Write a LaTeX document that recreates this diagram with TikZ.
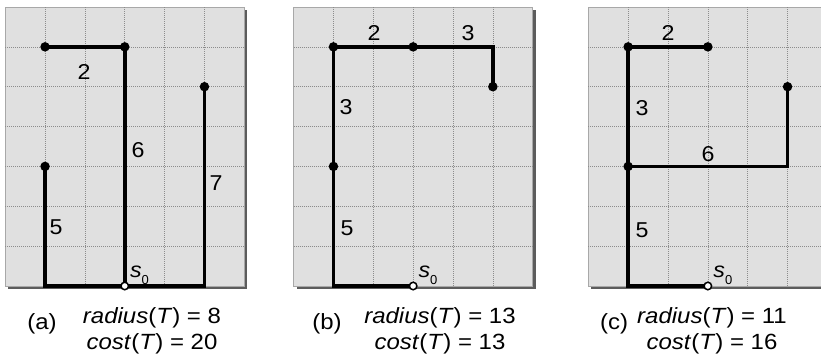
\documentclass[tikz,border=0pt]{standalone}
\usepackage{fontspec}
\setmainfont{Liberation Sans}
\definecolor{panelfill}{HTML}{E0E0E0}
\definecolor{panelborder}{HTML}{A8A8A8}
\definecolor{shadowgray}{HTML}{5C5C5C}
\definecolor{gridgray}{HTML}{8C8C8C}
\newcommand{\wide}[1]{\scalebox{1.08}[1]{#1}}
\newcommand{\capwide}[1]{\scalebox{1.09}[1]{#1}}
\newcommand{\sroot}{\wide{\itshape s}\raisebox{-7pt}{\fontsize{13}{13}\selectfont 0}}
\tikzset{
  gridline/.style={draw=gridgray, line width=0.7pt, dash pattern=on 1pt off 1pt},
  treeedge/.style={line width=3.6pt, line join=miter, line cap=butt},
  vdot/.style={circle, fill=black, inner sep=0pt, minimum size=9.5pt},
  rootdot/.style={circle, fill=white, draw=black, line width=1.5pt, inner sep=0pt, minimum size=7.5pt},
  lbl/.style={font=\fontsize{21.5}{25}\selectfont, inner sep=0pt},
  captext/.style={font=\fontsize{22}{26}\selectfont, inner sep=0pt}
}
\newcommand{\drawpanel}[1]{%
  \fill[shadowgray] (#1+3,10) rectangle (#1+242.1,289);
  \filldraw[fill=panelfill, draw=panelborder, line width=1pt] (#1,7) rectangle (#1+239.1,286);
  \foreach \k in {1,...,5} {\draw[gridline] (#1+\k*39.85,7) -- (#1+\k*39.85,286);}
  \foreach \k in {1,...,6} {\draw[gridline] (#1,7+\k*39.85) -- (#1+239.1,7+\k*39.85);}
}
\begin{document}
\begin{tikzpicture}[x=1pt,y=-1pt]
\useasboundingbox (0,0) rectangle (821,356);
\clip (0,0) rectangle (821,356);
\fill[white] (0,0) rectangle (821,356);

% ---------- panels ----------
\drawpanel{5.2}
\drawpanel{293.6}
\drawpanel{588.3}

% ---------- tree (a) ----------
\coordinate (a0) at (124.75,286);
\coordinate (a1) at (45.05,286);
\coordinate (a2) at (45.05,166.4);
\coordinate (a3) at (124.75,46.85);
\coordinate (a4) at (45.05,46.85);
\coordinate (a5) at (204.45,286);
\coordinate (a6) at (204.45,86.7);
\draw[treeedge] (a2) -- (a1) -- (a0) -- (a5) -- (a6);
\draw[treeedge] (a0) -- (a3) -- (a4);
\node[vdot] (da2) at (a2) {};
\node[vdot] (da3) at (a3) {};
\node[vdot] (da4) at (a4) {};
\node[vdot] (da6) at (a6) {};
\node[rootdot] (ra0) at (a0) {};

% ---------- tree (b) ----------
\coordinate (b0) at (413.15,286);
\coordinate (b1) at (333.45,286);
\coordinate (b2) at (333.45,166.4);
\coordinate (b3) at (333.45,46.85);
\coordinate (b4) at (413.15,46.85);
\coordinate (b5) at (492.85,46.85);
\coordinate (b6) at (492.85,86.7);
\draw[treeedge] (b0) -- (b1) -- (b2) -- (b3) -- (b4) -- (b5) -- (b6);
\node[vdot] (db2) at (b2) {};
\node[vdot] (db3) at (b3) {};
\node[vdot] (db4) at (b4) {};
\node[vdot] (db6) at (b6) {};
\node[rootdot] (rb0) at (b0) {};

% ---------- tree (c) ----------
\coordinate (c0) at (707.85,286);
\coordinate (c1) at (628.15,286);
\coordinate (c2) at (628.15,166.4);
\coordinate (c3) at (628.15,46.85);
\coordinate (c4) at (707.85,46.85);
\coordinate (c5) at (787.55,166.4);
\coordinate (c6) at (787.55,86.7);
\draw[treeedge] (c0) -- (c1) -- (c2) -- (c3) -- (c4);
\draw[treeedge] (c2) -- (c5) -- (c6);
\node[vdot] (dc2) at (c2) {};
\node[vdot] (dc3) at (c3) {};
\node[vdot] (dc4) at (c4) {};
\node[vdot] (dc6) at (c6) {};
\node[rootdot] (rc0) at (c0) {};

% ---------- edge labels ----------
\node[lbl] (la2) at (84,72) {\wide{2}};
\node[lbl] (la6) at (138,150) {\wide{6}};
\node[lbl] (la7) at (216,183) {\wide{7}};
\node[lbl] (la5) at (56,227) {\wide{5}};
\node[lbl, anchor=base west] (sa) at (129.8,277) {\sroot};

\node[lbl] (lb2) at (374,33) {\wide{2}};
\node[lbl] (lb3a) at (468,33) {\wide{3}};
\node[lbl] (lb3b) at (346,107) {\wide{3}};
\node[lbl] (lb5) at (347,228) {\wide{5}};
\node[lbl, anchor=base west] (sb) at (418.3,277) {\sroot};

\node[lbl] (lc2) at (668,33) {\wide{2}};
\node[lbl] (lc3) at (642,108) {\wide{3}};
\node[lbl] (lc6) at (708,154) {\wide{6}};
\node[lbl] (lc5) at (642,230) {\wide{5}};
\node[lbl, anchor=base west] (sc) at (713.2,277) {\sroot};

% ---------- captions ----------
\node[captext, anchor=base] (capa) at (42,329) {\capwide{(a)}};
\node[captext, anchor=base] (rada) at (152,323) {\capwide{\textit{radius}(\textit{T}) = 8}};
\node[captext, anchor=base] (costa) at (152,349) {\capwide{\textit{cost}(\textit{T}) = 20}};

\node[captext, anchor=base] (capb) at (327,329) {\capwide{(b)}};
\node[captext, anchor=base] (radb) at (440,323) {\capwide{\textit{radius}(\textit{T}) = 13}};
\node[captext, anchor=base] (costb) at (440,349) {\capwide{\textit{cost}(\textit{T}) = 13}};

\node[captext, anchor=base] (capc) at (614,329) {\capwide{(c)}};
\node[captext, anchor=base] (radc) at (712,323) {\capwide{\textit{radius}(\textit{T}) = 11}};
\node[captext, anchor=base] (costc) at (712,349) {\capwide{\textit{cost}(\textit{T}) = 16}};
\end{tikzpicture}
\end{document}
